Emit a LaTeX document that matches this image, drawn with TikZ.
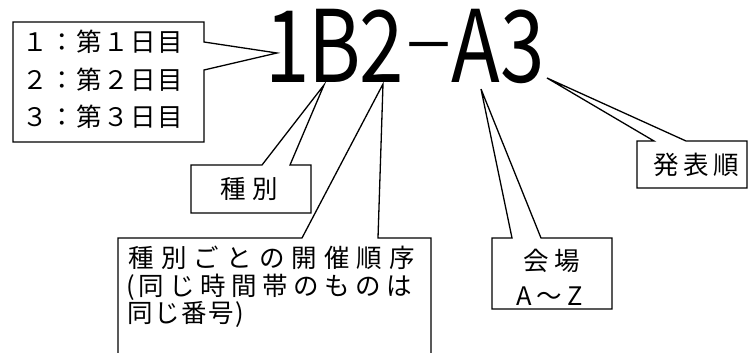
\documentclass[tikz,border=0pt]{standalone}
\usepackage{fontspec}
\setmainfont{Noto Sans CJK JP}
\newfontfamily\jpfont{Noto Sans CJK JP}
\newfontfamily\bigfont{Noto Sans CJK JP}
\makeatletter
\newcommand\mono[2]{\def\mono@p{#1}\mono@loop#2\mono@end}
\def\mono@loop#1{\ifx#1\mono@end\else\makebox[\mono@p]{#1}\expandafter\mono@loop\fi}
\makeatother
\newcommand\cellch[1]{\makebox[47pt]{\scalebox{0.8}[1]{#1}}}
\newcommand\celldash{\makebox[47pt]{\scalebox{0.45}[1]{―}}}
\begin{document}
\begin{tikzpicture}[x=1pt,y=-1pt,
  outline/.style={draw=black,line width=1.3pt,line join=miter},
  jtxt/.style={anchor=west,inner sep=0pt,font=\jpfont\fontsize{25.5pt}{25.5pt}\selectfont},
  bigtxt/.style={anchor=base west,inner sep=0pt,font=\bigfont\fontsize{100pt}{100pt}\selectfont}]
\useasboundingbox (0,0) rectangle (748,353);
\fill[white] (0,0) rectangle (748,353);

% big code
\node[bigtxt] (code) at (264,83) {\cellch{1}\cellch{B}\cellch{2}\celldash\cellch{A}\cellch{3}};

% pointer tips
\coordinate (tipday) at (277,53);
\coordinate (tipkind) at (324,85);
\coordinate (tiporder) at (383,84);
\coordinate (tiproom) at (481,89);
\coordinate (tippres) at (547,78);

% box 1: days
\draw[outline] (204,42) -- (tipday) -- (204,70) -- (204,142) -- (13,142) -- (13,22) -- (204,22) -- cycle;
\node[jtxt] (d1) at (21.5,42) {\mono{27pt}{１：第１日目}};
\node[jtxt] (d2) at (21.5,80) {\mono{27pt}{２：第２日目}};
\node[jtxt] (d3) at (21.5,117) {\mono{27pt}{３：第３日目}};

% box 2: kind
\draw[outline] (262,165) -- (tipkind) -- (290,165) -- (311,165) -- (311,213) -- (191,213) -- (191,165) -- cycle;
\node[jtxt] (kind) at (217,189) {\mono{32pt}{種別}};

% box 3: order (open at bottom)
\draw[outline] (118,354) -- (118,238) -- (302,238) -- (tiporder) -- (378,238) -- (431,238) -- (431,354);
\node[jtxt] (o1) at (125,258) {\mono{32.6pt}{種別ごとの開催順序}};
\node[jtxt] (o2) at (125,287) {\makebox[11pt]{(}\mono{31pt}{同じ時間帯のものは}};
\node[jtxt] (o3) at (127,314) {\mono{27pt}{同じ番号}\makebox[10pt]{)}};

% box 4: room
\draw[outline] (512,238) -- (tiproom) -- (541,238) -- (612,238) -- (612,309) -- (492,309) -- (492,238) -- cycle;
\node[jtxt] (r1) at (520.5,261) {\mono{31pt}{会場}};
\node[jtxt] (r2) at (512,296) {\mono{25pt}{A～Z}};

% box 5: presentation order
\draw[outline] (654,141) -- (tippres) -- (686,141) -- (747,141) -- (747,188) -- (637,188) -- (637,141) -- cycle;
\node[jtxt] (pres) at (651.5,165) {\mono{30pt}{発表順}};
\end{tikzpicture}
\end{document}
